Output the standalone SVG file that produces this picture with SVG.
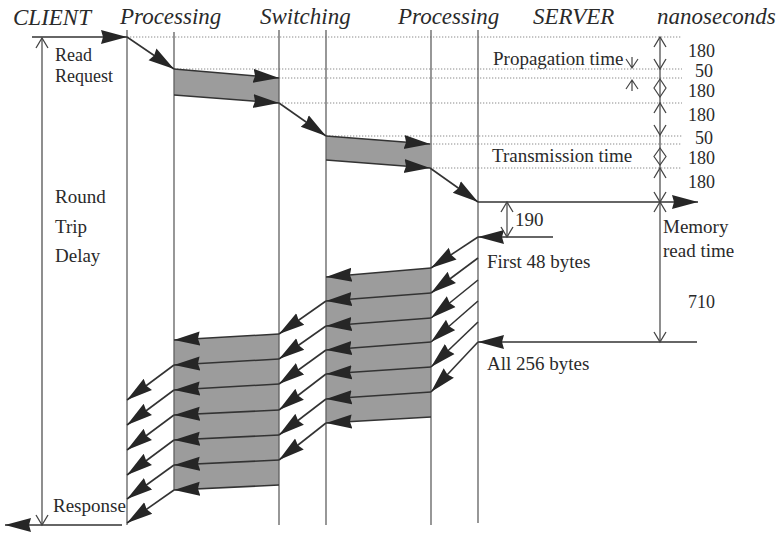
<svg xmlns="http://www.w3.org/2000/svg" width="780" height="533" viewBox="0 0 780 533">
<defs>
<style>
.t{font-family:"Liberation Serif","Times New Roman",serif;font-size:19px;fill:#2a2a2a}
.s{font-family:"Liberation Serif","Times New Roman",serif;font-size:18px;fill:#2a2a2a}
.n{font-family:"Liberation Serif","Times New Roman",serif;font-size:18px;fill:#2a2a2a}
.h{font-family:"Liberation Serif","Times New Roman",serif;font-size:23px;font-style:italic;fill:#2a2a2a}
.life{stroke:#606060;stroke-width:1.3;fill:none}
.dot{stroke:#8a8a8a;stroke-width:1;stroke-dasharray:1.3 1.7;fill:none}
.arr{stroke:#333;stroke-width:1.6;fill:none;marker-end:url(#ah)}
.band{fill:#9c9c9c;stroke:none}
.dim{stroke:#444;stroke-width:1.2;fill:none;marker-start:url(#ch);marker-end:url(#ch)}
.dl{stroke:#444;stroke-width:1.2;fill:none}
</style>
<marker id="ah" markerUnits="userSpaceOnUse" markerWidth="28" markerHeight="16" refX="26" refY="8" orient="auto">
<path d="M0,1 L26,8 L0,15 L2,8 z" fill="#262626"/>
</marker>
<marker id="ch" markerUnits="userSpaceOnUse" markerWidth="13" markerHeight="14" refX="11" refY="7" orient="auto-start-reverse">
<path d="M1,1 L11,7 L1,13" fill="none" stroke="#444" stroke-width="1.3"/>
</marker>
</defs>

<g id="headers">
<text class="h" x="13" y="25">CLIENT</text>
<text class="h" x="120" y="24">Processing</text>
<text class="h" x="260" y="24">Switching</text>
<text class="h" x="398" y="24">Processing</text>
<text class="h" x="533" y="24">SERVER</text>
<text class="h" x="657" y="24">nanoseconds</text>
</g>

<g id="dotted-levels">
<line class="dot" x1="127" y1="37" x2="682" y2="37"/>
<line class="dot" x1="174" y1="69" x2="682" y2="69"/>
<line class="dot" x1="279" y1="78" x2="682" y2="78"/>
<line class="dot" x1="279" y1="103" x2="682" y2="103"/>
<line class="dot" x1="326" y1="136" x2="682" y2="136"/>
<line class="dot" x1="430" y1="144" x2="682" y2="144"/>
<line class="dot" x1="430" y1="168" x2="682" y2="168"/>
</g>

<g id="bands">
<polygon class="band" points="174,69 279,78 279,103 174,95"/>
<polygon class="band" points="326,136 430,144 430,168 326,160"/>
<polygon class="band" points="431,268 326,277 326,423 431,417"/>
<polygon class="band" points="279,334 174,340 174,490 279,485"/>
</g>

<g id="lifelines">
<line class="life" x1="127" y1="30" x2="127" y2="525"/>
<line class="life" x1="174" y1="32" x2="174" y2="490"/>
<line class="life" x1="279" y1="30" x2="279" y2="525"/>
<line class="life" x1="326" y1="30" x2="326" y2="525"/>
<line class="life" x1="431" y1="30" x2="431" y2="525"/>
<line class="life" x1="478" y1="30" x2="478" y2="523"/>
</g>

<g id="connectors">
<line class="arr" x1="32" y1="37" x2="127" y2="37"/>
<line class="arr" x1="127" y1="37" x2="174" y2="69"/>
<line class="arr" x1="174" y1="69" x2="279" y2="78"/>
<line class="arr" x1="174" y1="95" x2="279" y2="103"/>
<line class="arr" x1="279" y1="103" x2="326" y2="136"/>
<line class="arr" x1="326" y1="136" x2="430" y2="144"/>
<line class="arr" x1="326" y1="160" x2="430" y2="168"/>
<line class="arr" x1="430" y1="168" x2="478" y2="202"/>
<line class="arr" x1="478" y1="202" x2="698" y2="202"/>
<line class="arr" x1="553" y1="237" x2="478" y2="237"/>
<line class="arr" x1="697" y1="342" x2="478" y2="342"/>
<line class="arr" x1="478" y1="237" x2="431" y2="268"/>
<line class="arr" x1="478" y1="258" x2="431" y2="293"/>
<line class="arr" x1="478" y1="280" x2="431" y2="318"/>
<line class="arr" x1="478" y1="301" x2="431" y2="342"/>
<line class="arr" x1="478" y1="322" x2="431" y2="367"/>
<line class="arr" x1="478" y1="342" x2="431" y2="392"/>
<line class="arr" x1="431" y1="268" x2="326" y2="277"/>
<line class="arr" x1="431" y1="293" x2="326" y2="301"/>
<line class="arr" x1="431" y1="318" x2="326" y2="326"/>
<line class="arr" x1="431" y1="342" x2="326" y2="350"/>
<line class="arr" x1="431" y1="367" x2="326" y2="374"/>
<line class="arr" x1="431" y1="392" x2="326" y2="399"/>
<line class="arr" x1="431" y1="417" x2="326" y2="423"/>
<line class="arr" x1="326" y1="301" x2="279" y2="334"/>
<line class="arr" x1="326" y1="326" x2="279" y2="359"/>
<line class="arr" x1="326" y1="350" x2="279" y2="384"/>
<line class="arr" x1="326" y1="374" x2="279" y2="410"/>
<line class="arr" x1="326" y1="399" x2="279" y2="435"/>
<line class="arr" x1="326" y1="423" x2="279" y2="460"/>
<line class="arr" x1="279" y1="334" x2="174" y2="340"/>
<line class="arr" x1="279" y1="359" x2="174" y2="365"/>
<line class="arr" x1="279" y1="384" x2="174" y2="390"/>
<line class="arr" x1="279" y1="410" x2="174" y2="415"/>
<line class="arr" x1="279" y1="435" x2="174" y2="440"/>
<line class="arr" x1="279" y1="460" x2="174" y2="465"/>
<line class="arr" x1="279" y1="485" x2="174" y2="490"/>
<line class="arr" x1="174" y1="365" x2="127" y2="400"/>
<line class="arr" x1="174" y1="390" x2="127" y2="425"/>
<line class="arr" x1="174" y1="415" x2="127" y2="450"/>
<line class="arr" x1="174" y1="440" x2="127" y2="475"/>
<line class="arr" x1="174" y1="465" x2="127" y2="499"/>
<line class="arr" x1="174" y1="490" x2="127" y2="523"/>
<line class="arr" x1="122" y1="525" x2="5" y2="525"/>
</g>

<g id="dimensions">
<line class="dim" x1="42" y1="38" x2="42" y2="525"/>
<line class="dim" x1="660" y1="37" x2="660" y2="69"/>
<line class="dl" x1="660" y1="69" x2="660" y2="103"/>
<path class="dl" d="M660,79 L654,88 L660,97 L666,88 Z"/>
<line class="dim" x1="660" y1="103" x2="660" y2="135"/>
<line class="dl" x1="660" y1="135" x2="660" y2="168"/>
<path class="dl" d="M660,148 L654,156.5 L660,165 L666,156.5 Z"/>
<line class="dim" x1="660" y1="168" x2="660" y2="202"/>
<line class="dim" x1="660" y1="202" x2="660" y2="342"/>
<line class="dim" x1="507" y1="202" x2="507" y2="237"/>
<path class="dl" d="M632,57 L632,68 M626,59 L632,68 L638,59"/>
<path class="dl" d="M632,91 L632,80 M626,89 L632,80 L638,89"/>
</g>

<g id="labels">
<text class="s" x="55" y="61">Read</text>
<text class="s" x="55" y="82">Request</text>
<text class="t" x="55" y="203">Round</text>
<text class="t" x="55" y="233">Trip</text>
<text class="t" x="55" y="262">Delay</text>
<text class="t" x="53" y="512">Response</text>
<text class="t" x="493" y="65">Propagation time</text>
<text class="t" x="492" y="162">Transmission time</text>
<text class="t" x="515" y="226">190</text>
<text class="t" x="487" y="268">First 48 bytes</text>
<text class="t" x="487" y="370">All 256 bytes</text>
<text class="t" x="663" y="233">Memory</text>
<text class="t" x="663" y="257">read time</text>
<text class="n" x="688" y="57">180</text>
<text class="n" x="695" y="77">50</text>
<text class="n" x="688" y="97">180</text>
<text class="n" x="688" y="121">180</text>
<text class="n" x="695" y="144">50</text>
<text class="n" x="688" y="164">180</text>
<text class="n" x="688" y="188">180</text>
<text class="n" x="688" y="308">710</text>
</g>
</svg>
